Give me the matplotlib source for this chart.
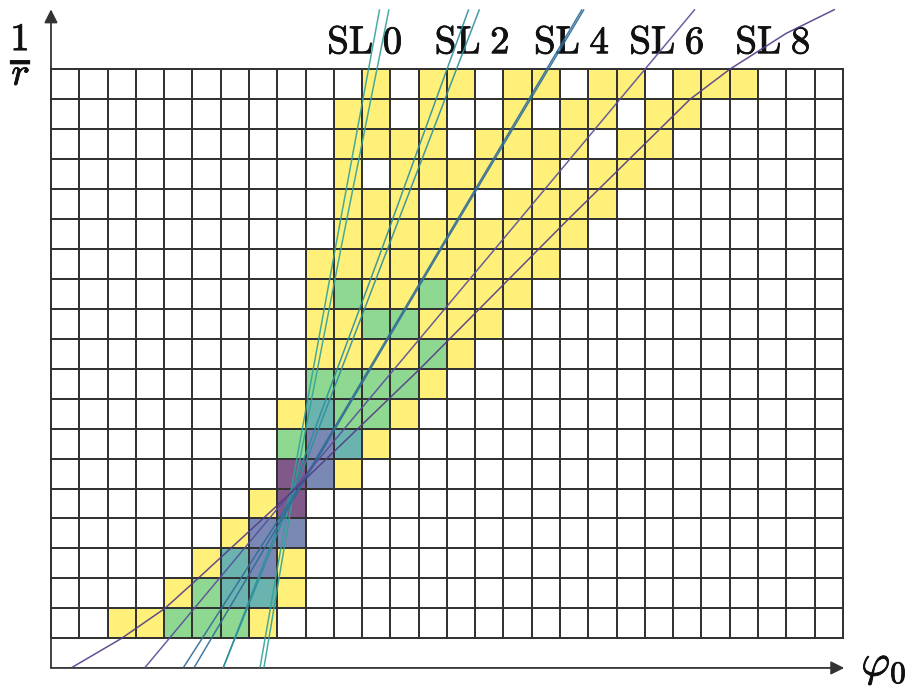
import numpy as np
import matplotlib
matplotlib.use("Agg")
import matplotlib.pyplot as plt
import matplotlib.patheffects as pe
from matplotlib.colors import ListedColormap, BoundaryNorm

plt.rcParams["mathtext.fontset"] = "cm"

# nombre de couches (super layers) par cellule, ligne du haut en premier
grille = [
    "0000000000010110110110111000",
    "00000000001101001011011",
    "0000000000111101111011",
    "000000000010111101011",
    "00000000001110101111",
    "0000000000111111111",
    "000000000111111111",
    "00000000012112111",
    "0000000001122111",
    "000000000111121",
    "00000000022221",
    "0000000013221",
    "000000002431",
    "00000000541",
    "000000015",
    "000000144",
    "0000013410",
    "000012331",
    "00112221",
]
n_col = 28

couleurs_cellules = ["#ffffff", "#fff07a", "#8fd891", "#6ab3ae", "#7a88b4", "#80588a"]

# courbes (phi0, 1/r), en unites de cellules
sl0a_x = [7.39, 8.50, 10.05, 11.62]
sl0a_y = [-0.98, 5.0, 13.0, 21.0]
sl0b_x = [7.53, 8.60, 10.25, 11.95]
sl0b_y = [-0.98, 5.0, 13.0, 21.0]
sl2a_x = [6.09, 8.55, 11.70, 14.77]
sl2a_y = [-0.98, 5.0, 13.0, 21.0]
sl2b_x = [6.09, 8.65, 11.90, 15.15]
sl2b_y = [-0.98, 5.0, 13.0, 21.0]
sl4a_x = [4.68, 8.75, 13.75, 18.78]
sl4a_y = [-0.98, 5.0, 13.0, 21.0]
sl4b_x = [5.06, 8.80, 13.80, 18.85]
sl4b_y = [-0.98, 5.0, 13.0, 21.0]
sl6_x = [3.32, 8.60, 15.70, 22.77]
sl6_y = [-0.98, 5.0, 13.0, 21.0]
sl8_x = [0.73, 2.50, 4.03, 5.20, 6.35, 8.65, 13.05, 18.30, 22.60, 24.00, 25.07, 26.00, 27.72]
sl8_y = [-0.98, 0.0, 1.0, 2.0, 3.0, 5.0, 9.0, 14.0, 18.0, 19.0, 19.64, 20.2, 21.0]

etiquettes = ["SL\\;0", "SL\\;2", "SL\\;4", "SL\\;6", "SL\\;8"]

# --- figure ---
fig = plt.figure(figsize=(9.14, 6.89), dpi=100)
ax = fig.add_axes([0, 0, 1, 1])
ax.set_xlim(-1.803, 30.516)
ax.set_ylim(-1.693, 21.312)
ax.axis("off")

contagem = np.array([[int(c) for c in linha.ljust(n_col, "0")] for linha in grille])[::-1]
n_lin = contagem.shape[0]
cmap = ListedColormap(couleurs_cellules)
norm = BoundaryNorm(np.arange(-0.5, 6.5, 1), cmap.N)
ax.pcolormesh(np.arange(n_col + 1), np.arange(n_lin + 1), contagem, cmap=cmap, norm=norm,
              edgecolors="#333333", linewidth=1.1, zorder=1)

# eixos com setas
seta = dict(arrowstyle="-|>", color="#333333", lw=1.3, mutation_scale=20, shrinkA=0, shrinkB=0)
ax.annotate("", xy=(0, 21.0), xytext=(0, -0.99), arrowprops=seta, zorder=3)
ax.annotate("", xy=(28.05, -0.99), xytext=(0, -0.99), arrowprops=seta, zorder=3)

# curvas
curvas = [
    (sl0a_x, sl0a_y, "#35a29a"),
    (sl0b_x, sl0b_y, "#35a29a"),
    (sl2a_x, sl2a_y, "#2e8f9e"),
    (sl2b_x, sl2b_y, "#2e8f9e"),
    (sl4a_x, sl4a_y, "#2f6c98"),
    (sl4b_x, sl4b_y, "#2f6c98"),
    (sl6_x, sl6_y, "#5a4e9c"),
    (sl8_x, sl8_y, "#533a87"),
]
for xs, ys, cor in curvas:
    ax.plot(xs, ys, color=cor, lw=1.1, alpha=0.9, zorder=4, solid_capstyle="butt")

# textos (tracado um pouco mais grosso, como no original)
engrossar = [pe.withStroke(linewidth=0.6, foreground="#111111")]
pos_x = [11.10, 14.89, 18.42, 21.78, 25.53]
for texto, x in zip(etiquettes, pos_x):
    ax.text(x, 19.53, "$\\mathrm{" + texto + "}$", fontsize=28, ha="center", va="baseline",
            color="#111111", zorder=2, path_effects=engrossar)

ax.text(-1.06, 19.45, r"$\frac{1}{r}$", fontsize=40, ha="center", va="center", color="#111111",
        path_effects=engrossar)
ax.text(29.45, -0.95, r"$\varphi_0$", fontsize=32, ha="center", va="center", color="#111111",
        path_effects=engrossar)

fig.savefig("out.png", dpi=100)
